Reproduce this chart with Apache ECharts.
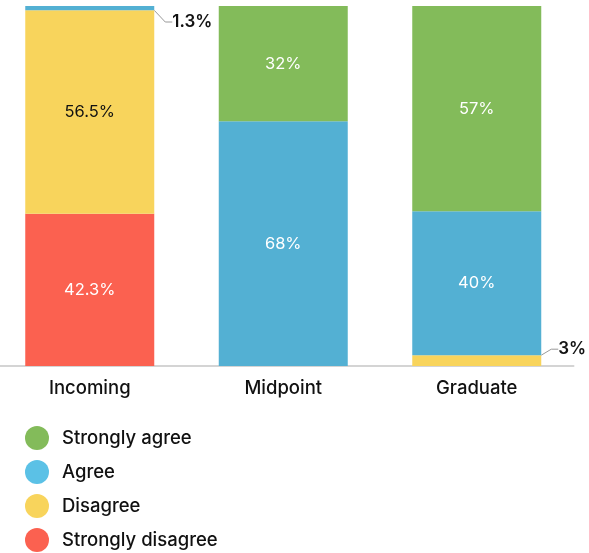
<!DOCTYPE html>
<html><head><meta charset="utf-8">
<script src="https://cdn.jsdelivr.net/npm/echarts@6/dist/echarts.min.js"></script>
<style>html,body{margin:0;padding:0;background:#fff;overflow:hidden}#c{width:596px;height:553px;margin-left:-7px}</style>
</head><body><div id="c"></div>
<script>
const categories = ['Incoming', 'Midpoint', 'Graduate'];
const seriesNames = ['Strongly disagree', 'Disagree', 'Agree', 'Strongly agree'];
const stronglyDisagree = [42.3, 0, 0];
const disagree = [56.5, 0, 3];
const agree = [1.3, 68, 40];
const stronglyAgree = [0, 32, 57];
const legendOrder = ['Strongly agree', 'Agree', 'Disagree', 'Strongly disagree'];

const colors = {
  'Strongly disagree': '#fb6150',
  'Disagree': '#f8d45c',
  'Agree': '#53b0d3',
  'Strongly agree': '#83bb5a'
};
const legendColors = {
  'Strongly disagree': '#fb6150',
  'Disagree': '#f8d45c',
  'Agree': '#5bc1e6',
  'Strongly agree': '#83bb5a'
};
const FONT = 'Inter, "Noto Sans", sans-serif';
const insideColor = { 'Strongly disagree': '#fff', 'Disagree': '#111', 'Agree': '#fff', 'Strongly agree': '#fff' };
const values = { 'Strongly disagree': stronglyDisagree, 'Disagree': disagree, 'Agree': agree, 'Strongly agree': stronglyAgree };
const outside = { 'Agree': [0], 'Disagree': [2] };

const series = seriesNames.map(name => {
  const outs = outside[name] || [];
  return {
    name: name,
    type: 'bar',
    stack: 'total',
    barWidth: 129,
    itemStyle: { color: colors[name] },
    label: {
      show: true,
      position: 'inside',
      color: insideColor[name],
      fontFamily: FONT,
      fontSize: 16.5,
      formatter: p => p.value ? p.value + '%' : ''
    },
    labelLine: { show: false },
    labelLayout: function (p) {
      if (outs.indexOf(p.dataIndex) < 0) return {};
      if (name === 'Agree') {
        return { x: p.rect.x + p.rect.width + 18, y: p.rect.y + 16, align: 'left', verticalAlign: 'middle' };
      }
      return { x: p.rect.x + p.rect.width + 17, y: p.rect.y - 6, align: 'left', verticalAlign: 'middle' };
    },
    data: values[name].map((v, i) => {
      if (outs.indexOf(i) >= 0) {
        return {
          value: v,
          label: { position: 'right', color: '#111', fontSize: 17, fontWeight: 600 },
          labelLine: { show: true, length2: 7, lineStyle: { color: '#999', width: 1 } }
        };
      }
      return v;
    })
  };
});

const chart = echarts.init(document.getElementById('c'));
chart.setOption({
  animation: false,
  grid: { left: 0, right: 15.5, top: 6, bottom: 187, containLabel: false },
  xAxis: {
    type: 'category',
    data: categories,
    axisLine: { lineStyle: { color: '#d4d4d4', width: 2 } },
    axisTick: { show: false },
    axisLabel: { color: '#111', fontFamily: FONT, fontSize: 18.5, fontWeight: 500, margin: 13 }
  },
  yAxis: { type: 'value', min: 0, max: 100, show: false, splitLine: { show: false } },
  legend: {
    orient: 'vertical',
    left: 32,
    top: 426,
    padding: 0,
    itemGap: 10,
    itemWidth: 24,
    itemHeight: 24,
    height: 200,
    icon: 'circle',
    data: legendOrder.map(n => ({ name: n, itemStyle: { color: legendColors[n] } })),
    textStyle: { color: '#111', fontFamily: FONT, fontSize: 18.5, fontWeight: 500, padding: [0, 0, 0, 8] }
  },
  series: series
});
</script></body></html>
